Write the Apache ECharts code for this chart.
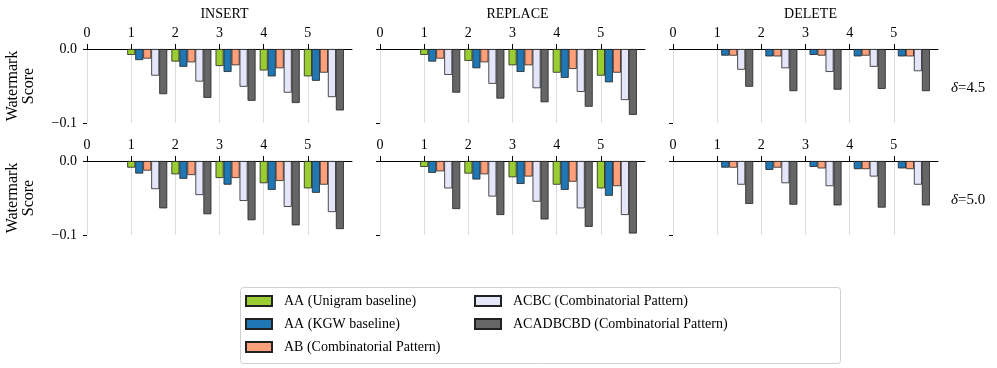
<!DOCTYPE html>
<html>
<head>
<meta charset="utf-8">
<script src="https://cdn.jsdelivr.net/npm/echarts@6/dist/echarts.min.js"></script>
<style>
  html, body { margin: 0; padding: 0; background: #fff; }
  #main { width: 997px; height: 368px; }
</style>
</head>
<body>
<div id="main"></div>
<script>
  // tick labels / categories
  const xTicks = [0, 1, 2, 3, 4, 5];
  const groups = [1, 2, 3, 4, 5];
  const seriesNames = ['AA (Unigram baseline)', 'AA (KGW baseline)', 'AB (Combinatorial Pattern)',
    'ACBC (Combinatorial Pattern)', 'ACADBCBD (Combinatorial Pattern)'];
  const opNames = ['INSERT', 'REPLACE', 'DELETE'];
  const deltaNames = ['4.5', '5.0'];

  // values, one row per series (same order as seriesNames); null = no bar
  const insertD45 = [
    [-0.008, -0.017, -0.023, -0.029, -0.037],
    [-0.015, -0.024, -0.031, -0.037, -0.043],
    [-0.013, -0.018, -0.022, -0.026, -0.032],
    [-0.036, -0.044, -0.051, -0.059, -0.065],
    [-0.061, -0.066, -0.070, -0.073, -0.083]
  ];
  const replaceD45 = [
    [-0.008, -0.016, -0.022, -0.032, -0.036],
    [-0.017, -0.026, -0.031, -0.039, -0.045],
    [-0.013, -0.018, -0.022, -0.027, -0.032],
    [-0.035, -0.047, -0.053, -0.058, -0.069],
    [-0.059, -0.067, -0.072, -0.078, -0.089]
  ];
  const deleteD45 = [
    [null, null, null, null, null],
    [-0.009, -0.010, -0.008, -0.010, -0.010],
    [-0.009, -0.010, -0.009, -0.009, -0.010],
    [-0.028, -0.026, -0.031, -0.024, -0.030],
    [-0.051, -0.057, -0.055, -0.054, -0.057]
  ];
  const insertD50 = [
    [-0.009, -0.018, -0.023, -0.030, -0.037],
    [-0.017, -0.024, -0.032, -0.039, -0.043],
    [-0.013, -0.019, -0.023, -0.027, -0.032],
    [-0.038, -0.046, -0.054, -0.062, -0.069],
    [-0.064, -0.072, -0.080, -0.087, -0.092]
  ];
  const replaceD50 = [
    [-0.008, -0.017, -0.022, -0.032, -0.037],
    [-0.016, -0.025, -0.031, -0.039, -0.047],
    [-0.014, -0.018, -0.021, -0.028, -0.034],
    [-0.037, -0.048, -0.055, -0.064, -0.073],
    [-0.065, -0.073, -0.079, -0.089, -0.098]
  ];
  const deleteD50 = [
    [null, null, null, null, null],
    [-0.009, -0.012, -0.008, -0.011, -0.010],
    [-0.009, -0.009, -0.010, -0.011, -0.011],
    [-0.032, -0.030, -0.034, -0.021, -0.032],
    [-0.058, -0.059, -0.060, -0.063, -0.060]
  ];

  const panels = [insertD45, replaceD45, deleteD45, insertD50, replaceD50, deleteD50];

  const colors = ['#9acd32', '#1f77b4', '#ffa07a', '#e6e6fa', '#666666'];
  const font = "'Liberation Serif', 'DejaVu Serif', serif";
  const colLeft = [87, 380, 673];
  const rowTop = [49, 161];
  const plotW = 265, plotH = 74;

  const grids = [], xAxes = [], yAxes = [], series = [], titles = [];

  panels.forEach(function (panel, p) {
    const r = Math.floor(p / 3), c = p % 3;
    grids.push({ left: colLeft[c], top: rowTop[r], width: plotW, height: plotH });

    // visible axis on top, 0..6
    xAxes.push({
      type: 'value', gridIndex: p, position: 'top', min: 0, max: 6,
      axisLine: { show: true, lineStyle: { color: '#000', width: 1 } },
      axisTick: { show: true, length: 5, customValues: xTicks, lineStyle: { color: '#000' } },
      axisLabel: { customValues: xTicks, margin: 9, color: '#000', fontFamily: font, fontSize: 14 },
      splitLine: { show: true, lineStyle: { color: '#dcdcdc', width: 1 } }
    });
    // hidden axis that carries the bars (first bar of each group sits on the tick)
    xAxes.push({
      type: 'value', gridIndex: p, show: false, min: -16 / 44, max: 6 - 16 / 44,
      splitLine: { show: false }
    });

    yAxes.push({
      type: 'value', gridIndex: p, min: -0.1, max: 0, interval: 0.1,
      axisLine: { show: false },
      axisTick: { show: true, length: 4, lineStyle: { color: '#000' } },
      axisLabel: {
        show: c === 0, margin: 10, color: '#000', fontFamily: font, fontSize: 14,
        formatter: function (v) { return v < 0 ? '\u2212' + Math.abs(v).toFixed(1) : '0.0'; }
      },
      splitLine: { show: false },
      name: c === 0 ? 'Watermark\nScore' : '',
      nameLocation: 'middle', nameRotate: 90, nameGap: 50,
      nameTextStyle: { color: '#000', fontFamily: font, fontSize: 16, lineHeight: 16 }
    });

    panel.forEach(function (vals, s) {
      series.push({
        type: 'bar', name: seriesNames[s],
        xAxisIndex: 2 * p + 1, yAxisIndex: p,
        barWidth: 8, barGap: '0%',
        itemStyle: { color: colors[s], borderColor: '#222', borderWidth: 0.8 },
        data: groups.map(function (g, i) { return [g, vals[i]]; })
      });
    });

    if (r === 0) {
      titles.push({
        text: opNames[c], left: colLeft[c] + plotW / 2, top: 2, textAlign: 'center',
        textStyle: { fontFamily: font, fontSize: 14, fontWeight: 'normal', color: '#000' }
      });
    }
  });

  deltaNames.forEach(function (d, r) {
    titles.push({
      text: '{i|\u03b4}=' + d, left: 946, top: rowTop[r] + 27,
      textStyle: {
        fontFamily: font, fontSize: 15, fontWeight: 'normal', color: '#000',
        rich: { i: { fontFamily: font, fontSize: 15, fontStyle: 'italic', color: '#000' } }
      }
    });
  });

  const legendBase = {
    orient: 'vertical', top: 289, itemWidth: 26, itemHeight: 10, itemGap: 9,
    icon: 'rect',
    textStyle: { fontFamily: font, fontSize: 14, color: '#000', padding: [0, 0, 0, 7], lineHeight: 14 }
  };

  const chart = echarts.init(document.getElementById('main'), null, { renderer: 'canvas' });
  chart.setOption({
    animation: false,
    backgroundColor: '#fff',
    title: titles,
    grid: grids,
    xAxis: xAxes,
    yAxis: yAxes,
    legend: [
      Object.assign({}, legendBase, { left: 240, data: seriesNames.slice(0, 3) }),
      Object.assign({}, legendBase, { left: 469, data: seriesNames.slice(3) })
    ],
    graphic: [{
      type: 'rect', left: 240, top: 287, z: -1,
      shape: { width: 600, height: 76, r: 3 },
      style: { fill: '#fff', stroke: '#d0d0d0', lineWidth: 1 }
    }],
    series: series
  });
</script>
</body>
</html>
